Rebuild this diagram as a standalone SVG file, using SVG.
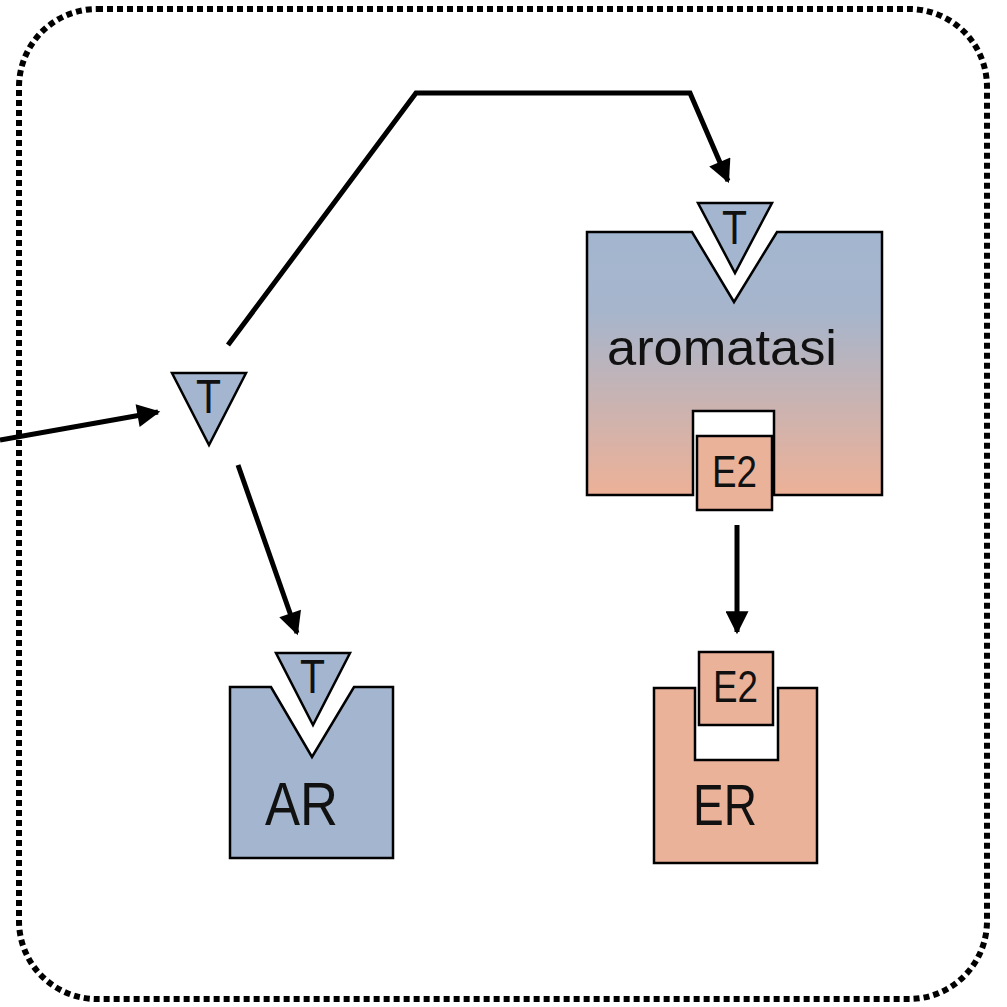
<svg xmlns="http://www.w3.org/2000/svg" width="1007" height="1007" viewBox="0 0 1007 1007">
<defs>
<linearGradient id="grad" x1="0" y1="0" x2="0" y2="1">
<stop offset="0" stop-color="#A3B6CF"/>
<stop offset="0.3" stop-color="#A6B5CC"/>
<stop offset="1" stop-color="#EDB197"/>
</linearGradient>
<marker id="arr" viewBox="0 0 10 10" refX="9" refY="5" markerWidth="5.2" markerHeight="4.6" orient="auto" markerUnits="strokeWidth">
<path d="M0,0 L10,5 L0,10 Z" fill="#000"/>
</marker>
<style>
.box{stroke:#000;stroke-width:2.5}
.blue{fill:#A4B6CF}
.sal{fill:#EBB29A}
.lbl{font-family:"Liberation Sans","DejaVu Sans",sans-serif;fill:#111}
.con{fill:none;stroke:#000;stroke-width:5;marker-end:url(#arr)}
</style>
</defs>
<rect width="1007" height="1007" fill="#fff"/>
<rect x="19" y="9" width="968" height="990" rx="78" ry="78" fill="none" stroke="#000" stroke-width="6" stroke-dasharray="6 4"/>

<g id="connectors">
<path class="con" d="M0,440 L158,412"/>
<path class="con" d="M238,465 L297,633"/>
<path class="con" d="M228,345 L416,93 L690,93 L728,181"/>
<path class="con" d="M737,525 L737,632"/>
</g>

<g id="T-free">
<polygon class="box blue" points="172,373 246,373 209,445"/>
<text class="lbl" x="196" y="413" font-size="48" textLength="25" lengthAdjust="spacingAndGlyphs">T</text>
</g>

<g id="aromatasi">
<polygon class="box" fill="url(#grad)" points="587,232 692,232 734,302 777,232 882,232 882,495 774,495 774,411 693,411 693,495 587,495"/>
<polygon class="box blue" points="698,203 772,203 735,273"/>
<text class="lbl" x="722" y="244" font-size="48" textLength="25" lengthAdjust="spacingAndGlyphs">T</text>
<text class="lbl" x="607" y="365" font-size="50" textLength="230" lengthAdjust="spacingAndGlyphs">aromatasi</text>
<rect class="box sal" x="697" y="436" width="75" height="74"/>
<text class="lbl" x="712" y="487" font-size="45" textLength="45" lengthAdjust="spacingAndGlyphs">E2</text>
</g>

<g id="AR">
<polygon class="box blue" points="230,687 271,687 312,757 354,687 393,687 393,858 230,858"/>
<polygon class="box blue" points="276,653 350,653 313,725"/>
<text class="lbl" x="300" y="693" font-size="48" textLength="25" lengthAdjust="spacingAndGlyphs">T</text>
<text class="lbl" x="265" y="825" font-size="62" textLength="73" lengthAdjust="spacingAndGlyphs">AR</text>
</g>

<g id="ER">
<polygon class="box sal" points="654,688 695,688 695,760 778,760 778,688 817,688 817,863 654,863"/>
<rect class="box sal" x="699" y="652" width="74" height="73"/>
<text class="lbl" x="713" y="702" font-size="45" textLength="45" lengthAdjust="spacingAndGlyphs">E2</text>
<text class="lbl" x="693" y="825" font-size="58" textLength="64" lengthAdjust="spacingAndGlyphs">ER</text>
</g>
</svg>
